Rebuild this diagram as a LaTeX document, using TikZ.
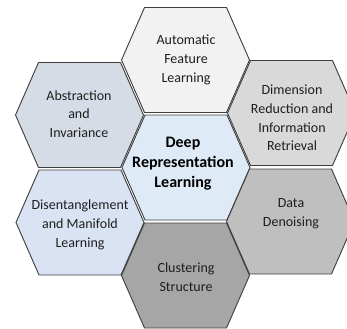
\documentclass[tikz,border=0pt]{standalone}
\usepackage{fontspec}
\setmainfont{Carlito}
\definecolor{cT}{HTML}{F2F2F2}
\definecolor{cUL}{HTML}{D6DCE5}
\definecolor{cC}{HTML}{DEEBF7}
\definecolor{cUR}{HTML}{D9D9D9}
\definecolor{cLL}{HTML}{DAE3F3}
\definecolor{cLR}{HTML}{BFBFBF}
\definecolor{cB}{HTML}{A6A6A6}
\definecolor{edge}{HTML}{404040}
\definecolor{ink}{HTML}{1E1E1E}
\tikzset{
  hexline/.style={draw=edge, line width=0.7pt, line join=miter},
  hextext/.style={align=center, text=ink, font=\fontsize{10.5}{14}\selectfont, inner sep=0pt},
  hexbold/.style={hextext, font=\fontsize{12}{15}\selectfont\bfseries, text=black},
}
\newcommand{\hexcell}[3]{%
  \path[hexline, fill=#3] ({#1-64},{#2}) -- ({#1-41},{#2-52.5}) -- ({#1+41},{#2-52.5})
    -- ({#1+64},{#2}) -- ({#1+41},{#2+52.5}) -- ({#1-41},{#2+52.5}) -- cycle;}
\begin{document}
\begin{tikzpicture}[x=0.75pt, y=-0.75pt]
\useasboundingbox (0,0) rectangle (347,329);
\begin{scope}
\clip (0,0) rectangle (347,329);
\hexcell{185.5}{60}{cT}
\hexcell{79.5}{115}{cUL}
\hexcell{186}{167.5}{cC}
\hexcell{291.5}{113}{cUR}
\hexcell{80}{222.5}{cLL}
\hexcell{290.5}{221.5}{cLR}
\hexcell{185.5}{275.5}{cB}
\end{scope}
\node[hextext] (auto) at (186,60) {Automatic\\Feature\\Learning};
\node[hextext] (abs) at (79,114) {Abstraction\\and\\Invariance};
\node[hexbold] (deep) at (183,164) {Deep\\Representation\\Learning};
\node[hextext] (dim) at (292,118) {Dimension\\Reduction and\\Information\\Retrieval};
\node[hextext] (dis) at (80,225) {Disentanglement\\and Manifold\\Learning};
\node[hextext] (den) at (291,214) {Data\\Denoising};
\node[hextext] (clu) at (186,277) {Clustering\\Structure};
\end{tikzpicture}
\end{document}
